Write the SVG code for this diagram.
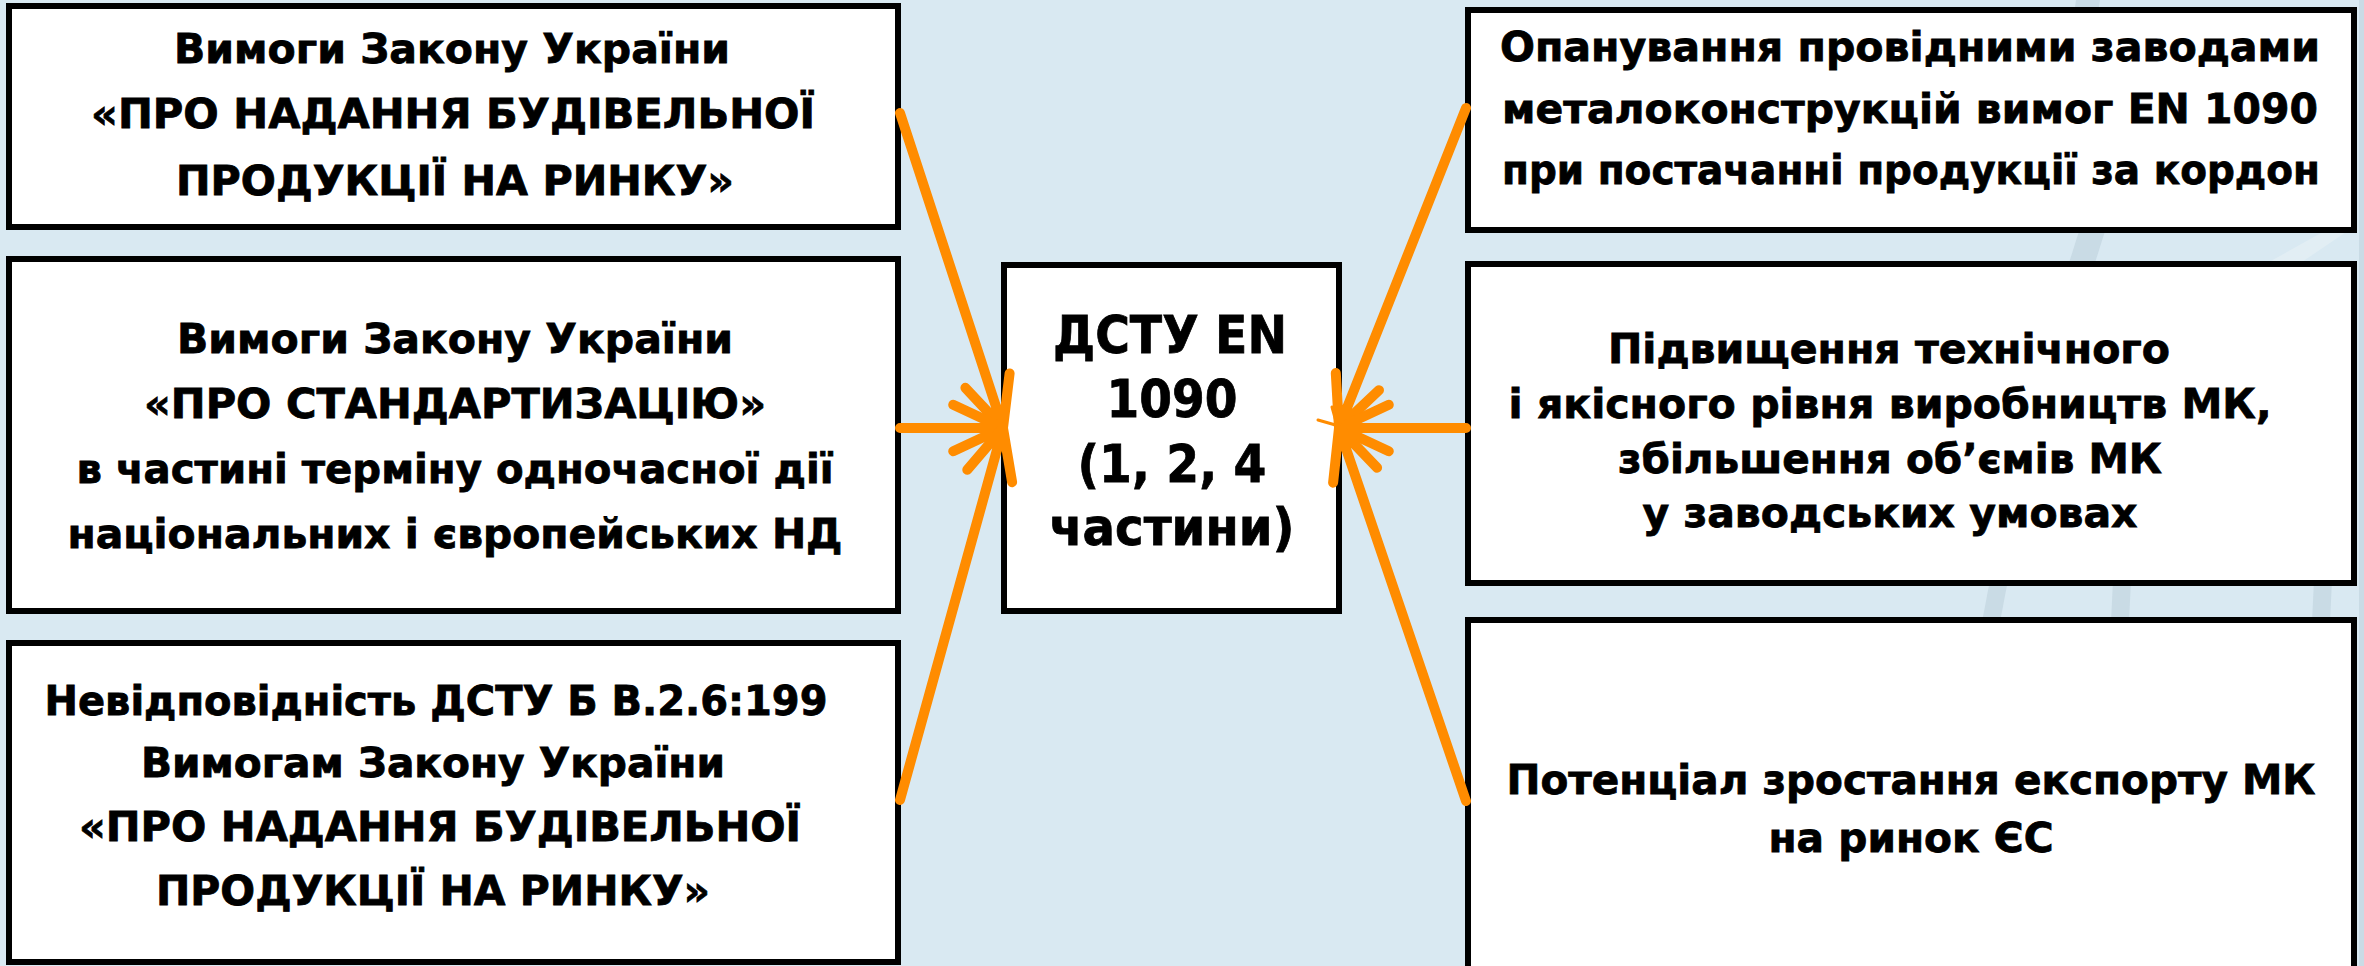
<svg xmlns="http://www.w3.org/2000/svg" width="2364" height="966" viewBox="0 0 2364 966">
<style>
.box{fill:#ffffff;stroke:#000000;stroke-width:6}
.t{font-family:"DejaVu Sans","Verdana","Liberation Sans",sans-serif;font-weight:bold;font-size:41px;fill:#000000;stroke:#000000;stroke-width:0.8;text-anchor:middle}
.tc{font-size:52px}
.arr{stroke:#FF8C00;stroke-width:10;fill:none;stroke-linecap:round;stroke-linejoin:round}
.stub{stroke:#FF8C00;stroke-width:3;stroke-linecap:round}
.stripe{fill:#C9DBE5}
.light{fill:#E2EEF4}
</style>
<rect x="0" y="0" width="2364" height="966" fill="#D9E9F2"/>
<g id="background-stripes">
<polygon class="stripe" points="2076,0 2100,0 2098,14 2074,14"/>
<polygon class="stripe" points="2080,228 2106,228 2094,266 2068,266"/>
<polygon class="light" points="2262,266 2296,266 2352,228 2330,228"/>
<polygon class="stripe" points="1990,580 2008,580 2000,622 1982,622"/>
<polygon class="stripe" points="2113,580 2131,580 2129,622 2111,622"/>
<polygon class="stripe" points="2314,580 2332,580 2330,622 2312,622"/>
<rect class="stripe" x="2359" y="0" width="5" height="966"/>
</g>
<g id="node-law-construction">
<rect class="box" x="9" y="6" width="889" height="221"/>
<text class="t" x="452" y="63" textLength="556" lengthAdjust="spacingAndGlyphs">Вимоги Закону України</text>
<text class="t" x="453" y="128" textLength="724" lengthAdjust="spacingAndGlyphs">«ПРО НАДАННЯ БУДІВЕЛЬНОЇ</text>
<text class="t" x="455" y="195" textLength="558" lengthAdjust="spacingAndGlyphs">ПРОДУКЦІЇ НА РИНКУ»</text>
</g>
<g id="node-law-standardization">
<rect class="box" x="9" y="259" width="889" height="352"/>
<text class="t" x="455" y="353" textLength="556" lengthAdjust="spacingAndGlyphs">Вимоги Закону України</text>
<text class="t" x="455" y="418" textLength="622" lengthAdjust="spacingAndGlyphs">«ПРО СТАНДАРТИЗАЦІЮ»</text>
<text class="t" x="455" y="483" textLength="757" lengthAdjust="spacingAndGlyphs">в частині терміну одночасної дії</text>
<text class="t" x="455" y="548" textLength="775" lengthAdjust="spacingAndGlyphs">національних і європейських НД</text>
</g>
<g id="node-dstu-mismatch">
<rect class="box" x="9" y="643" width="889" height="319"/>
<text class="t" x="436" y="715" textLength="783" lengthAdjust="spacingAndGlyphs">Невідповідність ДСТУ Б В.2.6:199</text>
<text class="t" x="433" y="777" textLength="584" lengthAdjust="spacingAndGlyphs">Вимогам Закону України</text>
<text class="t" x="440" y="841" textLength="722" lengthAdjust="spacingAndGlyphs">«ПРО НАДАННЯ БУДІВЕЛЬНОЇ</text>
<text class="t" x="433" y="905" textLength="554" lengthAdjust="spacingAndGlyphs">ПРОДУКЦІЇ НА РИНКУ»</text>
</g>
<g id="node-dstu-en-1090">
<rect class="box" x="1004" y="265" width="335" height="346"/>
<text class="t tc" x="1170" y="353" textLength="234" lengthAdjust="spacingAndGlyphs">ДСТУ EN</text>
<text class="t tc" x="1172" y="417" textLength="131" lengthAdjust="spacingAndGlyphs">1090</text>
<text class="t tc" x="1172" y="482" textLength="189" lengthAdjust="spacingAndGlyphs">(1, 2, 4</text>
<text class="t tc" x="1172" y="545" textLength="245" lengthAdjust="spacingAndGlyphs">частини)</text>
</g>
<g id="node-export-mastery">
<rect class="box" x="1468" y="10" width="886" height="220"/>
<text class="t" x="1910" y="61" textLength="820" lengthAdjust="spacingAndGlyphs">Опанування провідними заводами</text>
<text class="t" x="1910" y="123" textLength="816" lengthAdjust="spacingAndGlyphs">металоконструкцій вимог EN 1090</text>
<text class="t" x="1911" y="184" textLength="818" lengthAdjust="spacingAndGlyphs">при постачанні продукції за кордон</text>
</g>
<g id="node-technical-level">
<rect class="box" x="1468" y="264" width="886" height="319"/>
<text class="t" x="1889" y="363" textLength="562" lengthAdjust="spacingAndGlyphs">Підвищення технічного</text>
<text class="t" x="1890" y="418" textLength="763" lengthAdjust="spacingAndGlyphs">і якісного рівня виробництв МК,</text>
<text class="t" x="1890" y="473" textLength="544" lengthAdjust="spacingAndGlyphs">збільшення об’ємів МК</text>
<text class="t" x="1890" y="527" textLength="495" lengthAdjust="spacingAndGlyphs">у заводських умовах</text>
</g>
<g id="node-export-potential">
<rect class="box" x="1468" y="620" width="886" height="380"/>
<text class="t" x="1911" y="794" textLength="809" lengthAdjust="spacingAndGlyphs">Потенціал зростання експорту МК</text>
<text class="t" x="1911" y="852" textLength="285" lengthAdjust="spacingAndGlyphs">на ринок ЄС</text>
</g>
<g id="connectors">
<path class="arr" d="M900,113 L1003,428 M1009.6,373.4 L1003,428 L965.4,387.8"/>
<path class="arr" d="M900,428 L1003,428 M953.2,404.8 L1003,428 L953.2,451.2"/>
<path class="arr" d="M900,800 L1003,428 M967.3,469.8 L1003,428 L1012.1,482.2"/>
<path class="arr" d="M1466,108 L1339,428 M1379,390.2 L1339,428 L1335.8,373.1"/>
<path class="arr" d="M1466,428 L1339,428 M1388.8,404.8 L1339,428 L1388.8,451.2"/>
<path class="arr" d="M1466,801 L1339,428 M1333.1,482.7 L1339,428 L1377.1,467.7"/>
<line class="stub" x1="1318" y1="420" x2="1339" y2="426"/>
<line class="stub" x1="1332" y1="407" x2="1337" y2="425"/>
</g>
</svg>
